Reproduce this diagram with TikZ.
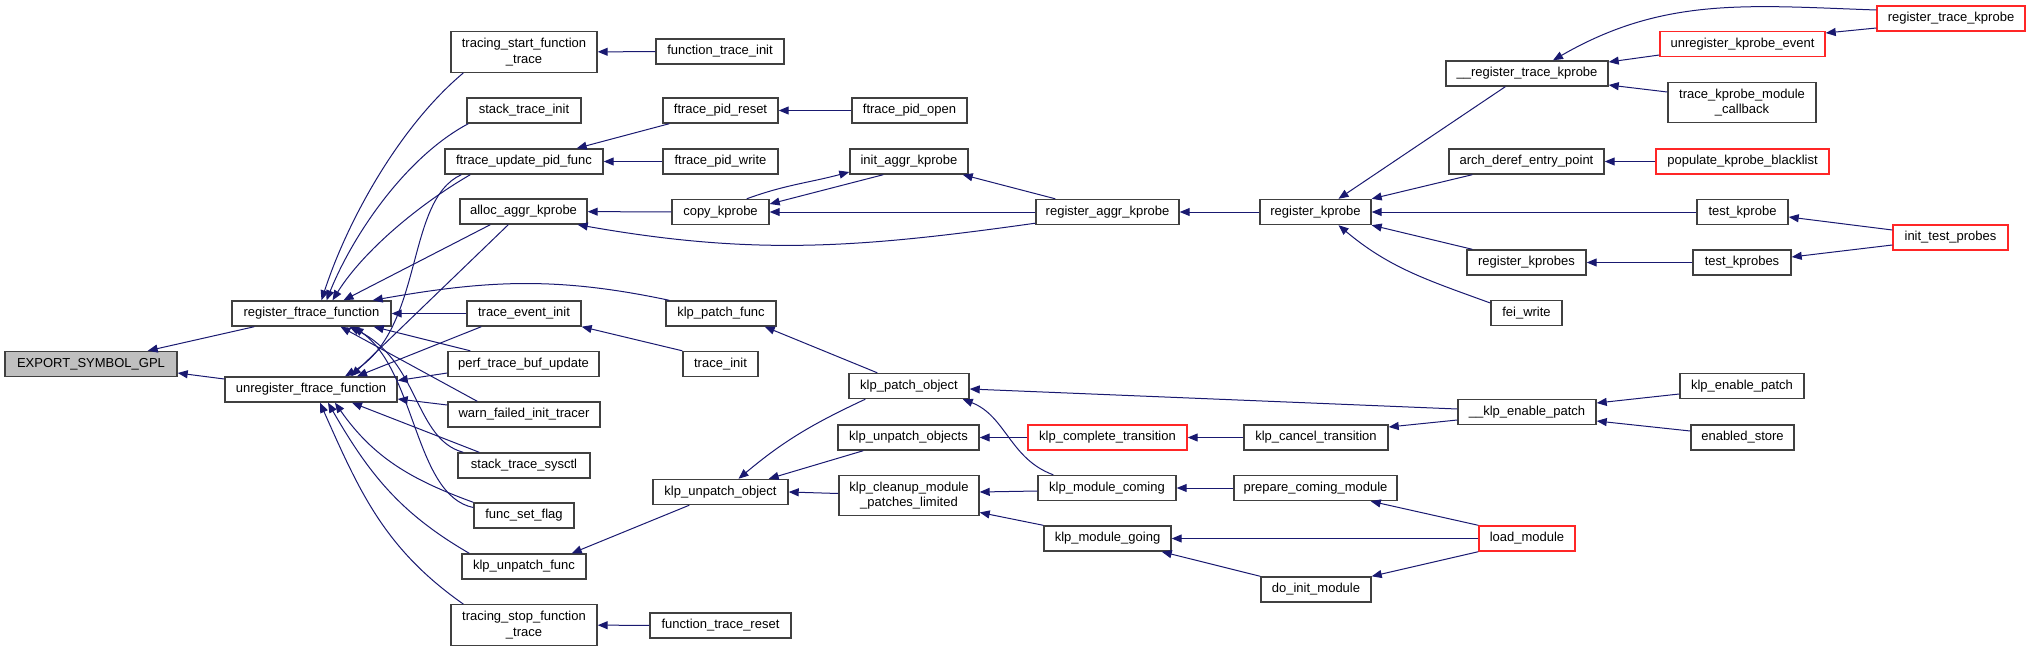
\documentclass[tikz,border=0pt]{standalone}
\usepackage{fontspec}
\setmainfont{Liberation Sans}
\usetikzlibrary{arrows.meta}
\usepackage{xcolor}
\definecolor{edgeblue}{HTML}{191970}
\definecolor{boxgray}{HTML}{BFBFBF}

\begin{document}
\begin{tikzpicture}[
    x=1pt, y=-1pt,
    func/.style={rectangle, draw=black!75, line width=1.4pt, fill=white, minimum height=25pt, inner sep=0pt, align=center, font=\fontsize{13}{15.5}\selectfont},
    tall/.style={func, minimum height=40.5pt},
    trunc/.style={func, draw=red!85!white},
    calls/.style={draw=edgeblue, line width=1pt, -{Triangle[length=10pt,width=8pt]}}
]
\useasboundingbox (0,0) rectangle (2027,651);

% column 1-2
\node (export) [func, fill=boxgray, minimum width=172pt] at (91,364) {EXPORT\_SYMBOL\_GPL};
\node (regftrace) [func, minimum width=159pt] at (311.5,313.5) {register\_ftrace\_function};
\node (unregftrace) [func, minimum width=172pt] at (311,389.5) {unregister\_ftrace\_function};

% column 3
\node (tstart) [tall, minimum width=146pt] at (524,52) {tracing\_start\_function\\\_trace};
\node (stinit) [func, minimum width=114pt] at (524,110.5) {stack\_trace\_init};
\node (pidfunc) [func, minimum width=158pt] at (524,161.5) {ftrace\_update\_pid\_func};
\node (allocak) [func, minimum width=127pt] at (523.5,211.5) {alloc\_aggr\_kprobe};
\node (teinit) [func, minimum width=114pt] at (524,313.5) {trace\_event\_init};
\node (perfbuf) [func, minimum width=151pt] at (523.5,364) {perf\_trace\_buf\_update};
\node (warnfail) [func, minimum width=152pt] at (524,414.5) {warn\_failed\_init\_tracer};
\node (stsysctl) [func, minimum width=132pt] at (524,465.5) {stack\_trace\_sysctl};
\node (setflag) [func, minimum width=100pt] at (524,515.5) {func\_set\_flag};
\node (unpfunc) [func, minimum width=124pt] at (524,566.5) {klp\_unpatch\_func};
\node (tstop) [tall, minimum width=146pt] at (524,625) {tracing\_stop\_function\\\_trace};

% column 4
\node (ftinit) [func, minimum width=128pt] at (720,51.5) {function\_trace\_init};
\node (pidreset) [func, minimum width=115pt] at (720.5,110.5) {ftrace\_pid\_reset};
\node (pidwrite) [func, minimum width=115pt] at (720.5,161.5) {ftrace\_pid\_write};
\node (copykp) [func, minimum width=97pt] at (720.5,212) {copy\_kprobe};
\node (patchfunc) [func, minimum width=110pt] at (721,313.5) {klp\_patch\_func};
\node (trinit) [func, minimum width=75pt] at (720.5,364) {trace\_init};
\node (unpobj) [func, minimum width=135pt] at (720.5,492) {klp\_unpatch\_object};
\node (ftreset) [func, minimum width=141pt] at (720.5,625.5) {function\_trace\_reset};

% column 5
\node (pidopen) [func, minimum width=115pt] at (909.5,110.5) {ftrace\_pid\_open};
\node (initak) [func, minimum width=118pt] at (909,161.5) {init\_aggr\_kprobe};
\node (patchobj) [func, minimum width=120pt] at (909,386) {klp\_patch\_object};
\node (unpobjs) [func, minimum width=141pt] at (908.5,437.5) {klp\_unpatch\_objects};
\node (cleanup) [tall, minimum width=140pt] at (909,495.5) {klp\_cleanup\_module\\\_patches\_limited};

% column 6
\node (regak) [func, minimum width=143pt] at (1107.5,212) {register\_aggr\_kprobe};
\node (complete) [trunc, minimum width=159pt] at (1107.5,437.5) {klp\_complete\_transition};
\node (modcoming) [func, minimum width=138pt] at (1107,488) {klp\_module\_coming};
\node (modgoing) [func, minimum width=127pt] at (1107.5,538.5) {klp\_module\_going};

% column 7
\node (regkp) [func, minimum width=111pt] at (1315.5,212) {register\_kprobe};
\node (cancel) [func, minimum width=144pt] at (1316,437.5) {klp\_cancel\_transition};
\node (prepcoming) [func, minimum width=163pt] at (1315.5,488) {prepare\_coming\_module};
\node (doinit) [func, minimum width=110pt] at (1316,589.5) {do\_init\_module};

% column 8
\node (regtkp) [func, minimum width=162pt] at (1527,73.5) {\_\_register\_trace\_kprobe};
\node (archderef) [func, minimum width=155pt] at (1526.5,161.5) {arch\_deref\_entry\_point};
\node (regkps) [func, minimum width=119pt] at (1526.5,262.5) {register\_kprobes};
\node (feiwrite) [func, minimum width=71pt] at (1526.5,313) {fei\_write};
\node (enpatch) [func, minimum width=138pt] at (1527,412) {\_\_klp\_enable\_patch};
\node (loadmod) [trunc, minimum width=96pt] at (1527,538.5) {load\_module};

% column 9-10
\node (unregkpev) [trunc, minimum width=165pt] at (1742.5,44) {unregister\_kprobe\_event};
\node (tkpcb) [tall, minimum width=148pt] at (1742,102.5) {trace\_kprobe\_module\\\_callback};
\node (populate) [trunc, minimum width=173pt] at (1742.5,161.5) {populate\_kprobe\_blacklist};
\node (testkp) [func, minimum width=91pt] at (1742.5,212) {test\_kprobe};
\node (testkps) [func, minimum width=98pt] at (1742,262.5) {test\_kprobes};
\node (enablepatch) [func, minimum width=124pt] at (1742,386) {klp\_enable\_patch};
\node (enstore) [func, minimum width=103pt] at (1742.5,437.5) {enabled\_store};
\node (regtracekp) [trunc, minimum width=148pt] at (1951,18.5) {register\_trace\_kprobe};
\node (inittest) [trunc, minimum width=115pt] at (1950.5,237.5) {init\_test\_probes};

% Arrows
\draw[calls] ([xshift=23pt]regftrace.south west) -- ([xshift=-30pt]export.north east);
\draw[calls] ([yshift=10.5pt]unregftrace.west) -- ([yshift=-9pt]export.east);

\draw[calls] ([xshift=13pt]tstart.south west) to[out=220,in=72,looseness=0.8] ([xshift=10pt]regftrace.north);
\draw[calls] ([xshift=2pt]stinit.south west) to[out=208,in=68,looseness=0.8] ([xshift=15pt]regftrace.north);
\draw[calls] ([xshift=26pt]pidfunc.south west) to[out=210,in=58,looseness=0.8] ([xshift=21pt]regftrace.north);
\draw[calls] ([xshift=31pt]allocak.south west) -- ([xshift=32pt]regftrace.north);
\draw[calls] ([xshift=4pt]patchfunc.north west) to[out=168,in=10] ([xshift=-19pt]regftrace.north east);
\draw[calls] (teinit) -- (regftrace);
\draw[calls] ([xshift=23pt]perfbuf.north west) -- ([xshift=-18pt]regftrace.south east);
\draw[calls] ([xshift=30pt]warnfail.north west) -- ([xshift=29pt]regftrace.south);
\draw[calls] ([xshift=6pt]stsysctl.north west) .. controls +(-49,-13) and +(70,34) .. ([xshift=38pt]regftrace.south);
\draw[calls] ([yshift=8pt]setflag.west) .. controls +(-59,-12) and +(63,44) .. ([xshift=42pt]regftrace.south);

\draw[calls] ([xshift=17pt]pidfunc.south west) .. controls +(-57,26) and +(80,-47) .. ([xshift=34pt]unregftrace.north);
\draw[calls] ([xshift=49pt]allocak.south west) -- ([xshift=40pt]unregftrace.north);
\draw[calls] ([xshift=15pt]teinit.south west) -- ([xshift=46pt]unregftrace.north);
\draw[calls] ([yshift=-9pt]perfbuf.west) -- ([yshift=9pt]unregftrace.east);
\draw[calls] ([yshift=9.5pt]warnfail.west) -- ([yshift=-9.5pt]unregftrace.east);
\draw[calls] ([xshift=22pt]stsysctl.north west) -- ([xshift=41pt]unregftrace.south);
\draw[calls] (setflag.north west) to[out=160,in=-55] ([xshift=24pt]unregftrace.south);
\draw[calls] ([xshift=8pt]unpfunc.north west) to[out=150,in=-60] ([xshift=17pt]unregftrace.south);
\draw[calls] ([xshift=13pt]tstop.north west) to[out=145,in=-66] ([xshift=9pt]unregftrace.south);

\draw[calls] (ftinit) -- (tstart);
\draw[calls] (ftreset) -- (tstop);
\draw[calls] ([xshift=7pt]pidreset.south west) -- ([xshift=-27pt]pidfunc.north east);
\draw[calls] (pidopen) -- (pidreset);
\draw[calls] (pidwrite) -- (pidfunc);
\draw[calls] (copykp) -- (allocak);
\draw[calls] ([yshift=2pt]regak.south west) to[out=188,in=-10] ([xshift=-10pt]allocak.south east);
\draw[calls] ([xshift=-23pt]copykp.north east) to[out=20,in=195] ([yshift=-10.5pt]initak.west);
\draw[calls] ([xshift=34pt]initak.south west) -- ([yshift=8pt]copykp.east);
\draw[calls] (regak) -- (copykp);
\draw[calls] ([xshift=20pt]regak.north west) -- ([xshift=-6pt]initak.south east);
\draw[calls] (regkp) -- (regak);

\draw[calls] ([xshift=60pt]regtkp.south west) -- ([xshift=23pt]regkp.north);
\draw[calls] ([xshift=24pt]archderef.south west) -- (regkp.north east);
\draw[calls] (testkp) -- (regkp);
\draw[calls] ([xshift=6pt]regkps.north west) -- (regkp.south east);
\draw[calls] ([yshift=10pt]feiwrite.west) to[out=160,in=-40] ([xshift=23pt]regkp.south);
\draw[calls] ([yshift=8.5pt]regtracekp.west) to[out=178,in=30] ([xshift=26pt]regtkp.north);
\draw[calls] ([yshift=-9.5pt]regtracekp.west) -- ([yshift=11pt]unregkpev.east);
\draw[calls] ([yshift=-11pt]unregkpev.west) -- ([yshift=11.5pt]regtkp.east);
\draw[calls] ([yshift=10.5pt]tkpcb.west) -- ([yshift=-11.5pt]regtkp.east);
\draw[calls] (populate) -- (archderef);
\draw[calls] ([yshift=7.5pt]inittest.west) -- ([yshift=-5pt]testkp.east);
\draw[calls] ([yshift=-7.5pt]inittest.west) -- ([yshift=5.5pt]testkps.east);
\draw[calls] (testkps) -- (regkps);

\draw[calls] (trinit.north west) -- (teinit.south east);
\draw[calls] ([xshift=29pt]patchobj.north west) -- ([xshift=-12pt]patchfunc.south east);
\draw[calls] ([xshift=37pt]unpobj.south west) -- ([xshift=-15pt]unpfunc.north east);
\draw[calls] ([xshift=17pt]patchobj.south west) to[out=205,in=40] ([xshift=18pt]unpobj.north);
\draw[calls] ([xshift=26pt]unpobjs.south west) -- ([xshift=-20pt]unpobj.north east);
\draw[calls] ([yshift=2pt]cleanup.west) -- (unpobj.east);
\draw[calls] (complete) -- (unpobjs);
\draw[calls] ([xshift=16pt]modcoming.north west) to[out=160,in=-21] ([xshift=-7pt]patchobj.south east);
\draw[calls] ([yshift=-3pt]modcoming.west) -- ([yshift=3.5pt]cleanup.east);
\draw[calls] (modgoing.north west) -- ([yshift=4pt]cleanup.south east);
\draw[calls] (prepcoming) -- (modcoming);
\draw[calls] (loadmod.north west) -- ([xshift=-27pt]prepcoming.south east);
\draw[calls] (loadmod) -- (modgoing);
\draw[calls] (loadmod.south west) -- (doinit.north east);
\draw[calls] (doinit.north west) -- ([xshift=-10pt]modgoing.south east);
\draw[calls] (cancel) -- (complete);
\draw[calls] ([yshift=-8pt]enpatch.west) -- ([yshift=10.5pt]cancel.east);
\draw[calls] ([yshift=3pt]enpatch.west) -- ([yshift=-3pt]patchobj.east);
\draw[calls] ([yshift=-8pt]enablepatch.west) -- ([yshift=9pt]enpatch.east);
\draw[calls] ([yshift=6.5pt]enstore.west) -- ([yshift=-9pt]enpatch.east);

\end{tikzpicture}
\end{document}
